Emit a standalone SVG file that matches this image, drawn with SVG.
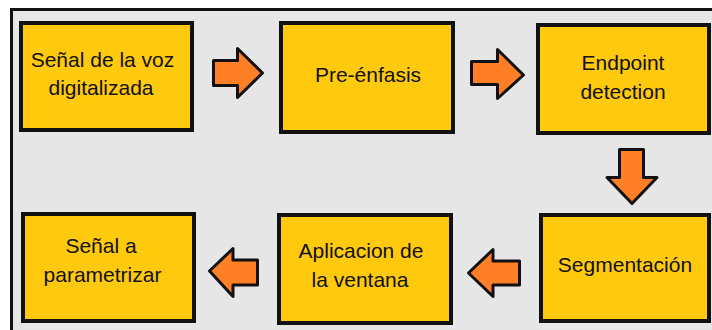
<svg xmlns="http://www.w3.org/2000/svg" width="712" height="330" viewBox="0 0 712 330">
  <style>
    .frame { fill: #e6e6e6; stroke: #111; stroke-width: 3; }
    .box { fill: #ffc90e; stroke: #111; stroke-width: 4; }
    .arrow { fill: #ff7f27; stroke: #111; stroke-width: 3; stroke-linejoin: round; }
    .label { font-family: "Liberation Sans", Arial, sans-serif; font-size: 21px; fill: #111; text-anchor: middle; }
  </style>

  <!-- background panel -->
  <rect class="frame" x="11.5" y="9.5" width="720" height="340"/>

  <!-- process steps -->
  <g id="senal-voz">
    <rect class="box" x="21" y="23" width="171" height="107"/>
    <text class="label" x="102.5" y="67">Señal de la voz</text>
    <text class="label" x="101" y="95">digitalizada</text>
  </g>
  <g id="pre-enfasis">
    <rect class="box" x="281" y="23" width="172" height="109"/>
    <text class="label" x="368" y="82">Pre-énfasis</text>
  </g>
  <g id="endpoint">
    <rect class="box" x="538" y="25" width="171" height="108"/>
    <text class="label" x="623" y="70">Endpoint</text>
    <text class="label" x="623" y="99">detection</text>
  </g>
  <g id="segmentacion">
    <rect class="box" x="541" y="215" width="168" height="106"/>
    <text class="label" x="625" y="272">Segmentación</text>
  </g>
  <g id="ventana">
    <rect class="box" x="279" y="215" width="172" height="108"/>
    <text class="label" x="361" y="258">Aplicacion de</text>
    <text class="label" x="360" y="287">la ventana</text>
  </g>
  <g id="senal-parametrizar">
    <rect class="box" x="23" y="214" width="171" height="107"/>
    <text class="label" x="101" y="253">Señal a</text>
    <text class="label" x="102.5" y="282">parametrizar</text>
  </g>

  <!-- block arrows between steps -->
  <g id="connectors">
    <path class="arrow" d="M213.5,60.5 H237.5 V48.5 L262.5,73 L237.5,97.5 V85.5 H213.5 Z"/>
    <path class="arrow" d="M471.5,61.5 H497.5 V49.5 L523.5,75 L497.5,98.5 V84.5 H471.5 Z"/>
    <path class="arrow" d="M619.5,149.5 H643.5 V177.5 H657 L632,203.5 L607,177.5 H619.5 Z"/>
    <path class="arrow" d="M468.5,273 L493,249.5 V261 H519.5 V285 H493 V296.5 Z"/>
    <path class="arrow" d="M209.5,271 L233,248.5 V260 H257.5 V285 H233 V296.5 Z"/>
  </g>
</svg>
